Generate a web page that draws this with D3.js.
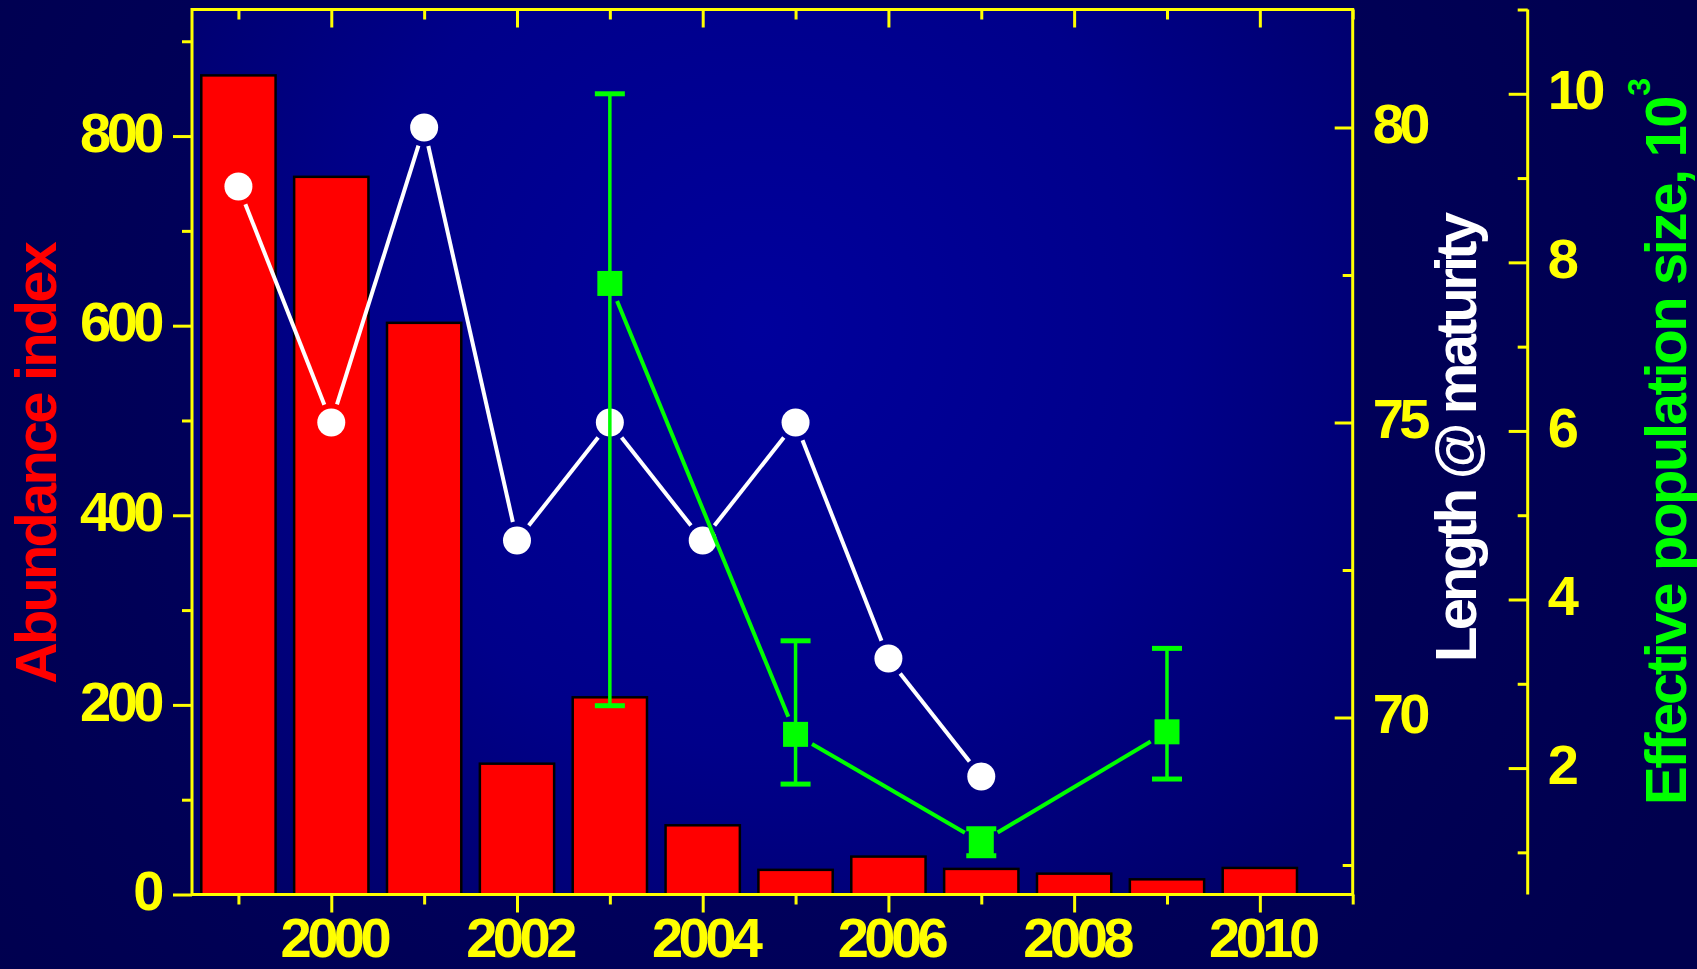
<!DOCTYPE html>
<html>
<head>
<meta charset="utf-8">
<script src="https://cdn.jsdelivr.net/npm/d3@7"></script>
<style>
  html, body { margin: 0; padding: 0; background: #000058; overflow: hidden; }
  svg { display: block; }
</style>
</head>
<body>
<svg id="chart" width="1697" height="969"></svg>
<script>
// ---- data ----
const years = [1999, 2000, 2001, 2002, 2003, 2004, 2005, 2006, 2007, 2008, 2009, 2010];
const abundance = [864, 757, 603, 138, 208, 73, 26, 40, 27, 22, 16, 28];

const lengthYears = [1999, 2000, 2001, 2002, 2003, 2004, 2005, 2006, 2007];
const lengthAtMaturity = [79, 75, 80, 73, 75, 73, 75, 71, 69];

const neYears = [2003, 2005, 2007, 2009];
const neSize = [7.75, 2.40, 1.12, 2.43];      // thousands
const neLower = [2.74, 1.81, 0.96, 1.87];
const neUpper = [10.0, 3.51, 1.28, 3.42];

// ---- tick values ----
const abundanceTicks = [0, 200, 400, 600, 800];
const abundanceMinor = [100, 300, 500, 700, 900];
const yearLabels = [2000, 2002, 2004, 2006, 2008, 2010];
const yearMinor = [1999, 2001, 2003, 2005, 2007, 2009, 2011];
const lengthTicks = [70, 75, 80];
const lengthMinor = [67.5, 72.5, 77.5];
const neTicks = [2, 4, 6, 8, 10];
const neMinor = [1, 3, 5, 7, 9, 11];

// ---- layout ----
const W = 1697, H = 969;
const plotL = 192, plotR = 1352.7, plotT = 9.5, plotB = 894.5;
const neAxisX = 1527.7;
const YELLOW = "#ffff00";
const GREEN = "#00ff00";
const FONT = "'Liberation Sans', Arial, Helvetica, sans-serif";

const svg = d3.select("#chart");

const x = d3.scaleLinear().domain([1998.5, 2011]).range([plotL, plotR]);
const yAb = d3.scaleLinear().domain([0, 933.5]).range([plotB, plotT]);
const yLen = d3.scaleLinear().domain([67, 82]).range([plotB, plotT]);
const yNe = d3.scaleLinear().domain([0.5, 11]).range([plotB, plotT]);

// ---- backgrounds ----
const defs = svg.append("defs");
const pageGrad = defs.append("radialGradient").attr("id", "pageBg")
  .attr("gradientUnits", "userSpaceOnUse")
  .attr("cx", 760).attr("cy", 400).attr("r", 1000);
pageGrad.append("stop").attr("offset", 0).attr("stop-color", "#000068");
pageGrad.append("stop").attr("offset", 1).attr("stop-color", "#00004e");

const plotGrad = defs.append("radialGradient").attr("id", "plotBg")
  .attr("gradientUnits", "userSpaceOnUse")
  .attr("cx", 760).attr("cy", 330).attr("r", 760);
plotGrad.append("stop").attr("offset", 0).attr("stop-color", "#00009c");
plotGrad.append("stop").attr("offset", 0.55).attr("stop-color", "#00008a");
plotGrad.append("stop").attr("offset", 1).attr("stop-color", "#000066");

svg.append("rect").attr("width", W).attr("height", H).attr("fill", "url(#pageBg)");
svg.append("rect")
  .attr("x", plotL).attr("y", plotT)
  .attr("width", plotR - plotL).attr("height", plotB - plotT)
  .attr("fill", "url(#plotBg)");

// ---- bars: abundance index (0.8 year wide) ----
const barW = x(1999.8) - x(1999);
svg.append("g").selectAll("rect")
  .data(years.map((yr, i) => ({ yr, v: abundance[i] })))
  .join("rect")
  .attr("x", d => x(d.yr) - barW / 2)
  .attr("y", d => yAb(d.v))
  .attr("width", barW)
  .attr("height", d => yAb(0) - yAb(d.v))
  .attr("fill", "#ff0000")
  .attr("stroke", "#000000")
  .attr("stroke-width", 2.5);

// line segments that stop short of each marker
function gappedSegments(pts, gap) {
  const segs = [];
  for (let i = 0; i < pts.length - 1; i++) {
    const [x1, y1] = pts[i], [x2, y2] = pts[i + 1];
    const len = Math.hypot(x2 - x1, y2 - y1);
    const ux = (x2 - x1) / len, uy = (y2 - y1) / len;
    segs.push([x1 + ux * gap, y1 + uy * gap, x2 - ux * gap, y2 - uy * gap]);
  }
  return segs;
}

// ---- length at maturity (white circles) ----
const lenPts = lengthYears.map((yr, i) => [x(yr), yLen(lengthAtMaturity[i])]);
const gLen = svg.append("g");
gLen.selectAll("line")
  .data(gappedSegments(lenPts, 19))
  .join("line")
  .attr("x1", d => d[0]).attr("y1", d => d[1])
  .attr("x2", d => d[2]).attr("y2", d => d[3])
  .attr("stroke", "#ffffff").attr("stroke-width", 4);
gLen.selectAll("circle")
  .data(lenPts)
  .join("circle")
  .attr("cx", d => d[0]).attr("cy", d => d[1])
  .attr("r", 14).attr("fill", "#ffffff");

// ---- effective population size (green squares, error bars) ----
const nePts = neYears.map((yr, i) => [x(yr), yNe(neSize[i])]);
const gNe = svg.append("g");
gNe.selectAll("line.seg")
  .data(gappedSegments(nePts, 19))
  .join("line").attr("class", "seg")
  .attr("x1", d => d[0]).attr("y1", d => d[1])
  .attr("x2", d => d[2]).attr("y2", d => d[3])
  .attr("stroke", GREEN).attr("stroke-width", 4);

const errData = neYears.map((yr, i) => ({ yr, lo: neLower[i], hi: neUpper[i] }));
gNe.selectAll("line.err")
  .data(errData)
  .join("line").attr("class", "err")
  .attr("x1", d => x(d.yr)).attr("x2", d => x(d.yr))
  .attr("y1", d => yNe(d.hi)).attr("y2", d => yNe(d.lo))
  .attr("stroke", GREEN).attr("stroke-width", 3.5);
["hi", "lo"].forEach(k => {
  gNe.selectAll("line.cap-" + k)
    .data(errData)
    .join("line").attr("class", "cap-" + k)
    .attr("x1", d => x(d.yr) - 15).attr("x2", d => x(d.yr) + 15)
    .attr("y1", d => yNe(d[k])).attr("y2", d => yNe(d[k]))
    .attr("stroke", GREEN).attr("stroke-width", 5);
});
gNe.selectAll("rect")
  .data(nePts)
  .join("rect")
  .attr("x", d => d[0] - 12.5).attr("y", d => d[1] - 12.5)
  .attr("width", 25).attr("height", 25)
  .attr("fill", GREEN);

// ---- axes ----
function styleAxis(g) {
  g.select(".domain").remove();
  g.selectAll(".tick line").attr("stroke", YELLOW).attr("stroke-width", 3);
  g.selectAll(".tick text")
    .attr("fill", YELLOW)
    .style("font-family", FONT)
    .style("font-weight", "bold")
    .style("font-size", "56px")
    .style("letter-spacing", "-4.5px");
}

// left: abundance
svg.append("g").attr("transform", `translate(${plotL},0)`)
  .call(d3.axisLeft(yAb).tickValues(abundanceTicks).tickSize(19).tickSizeOuter(0).tickPadding(13))
  .call(styleAxis)
  .call(g => g.selectAll(".tick text").attr("dy", "0.27em"));
svg.append("g").attr("transform", `translate(${plotL},0)`)
  .call(d3.axisLeft(yAb).tickValues(abundanceMinor).tickSize(10).tickSizeOuter(0).tickFormat(""))
  .call(styleAxis);

// bottom: years
svg.append("g").attr("transform", `translate(0,${plotB})`)
  .call(d3.axisBottom(x).tickValues(yearLabels).tickSize(18).tickSizeOuter(0).tickPadding(5).tickFormat(d3.format("d")))
  .call(styleAxis)
  .call(g => g.selectAll(".tick text").attr("dx", "2px"));
svg.append("g").attr("transform", `translate(0,${plotB})`)
  .call(d3.axisBottom(x).tickValues(yearMinor).tickSize(10).tickSizeOuter(0).tickFormat(""))
  .call(styleAxis);

// top: year ticks pointing inward
svg.append("g").attr("transform", `translate(0,${plotT})`)
  .call(d3.axisTop(x).tickValues(yearLabels).tickSize(-18).tickSizeOuter(0).tickFormat(""))
  .call(styleAxis);
svg.append("g").attr("transform", `translate(0,${plotT})`)
  .call(d3.axisTop(x).tickValues(yearMinor).tickSize(-10).tickSizeOuter(0).tickFormat(""))
  .call(styleAxis);

// right frame: length at maturity, ticks inward, labels outside
svg.append("g").attr("transform", `translate(${plotR},0)`)
  .call(d3.axisLeft(yLen).tickValues(lengthTicks).tickSize(18).tickSizeOuter(0).tickFormat(""))
  .call(styleAxis);
svg.append("g").attr("transform", `translate(${plotR},0)`)
  .call(d3.axisLeft(yLen).tickValues(lengthMinor).tickSize(10).tickSizeOuter(0).tickFormat(""))
  .call(styleAxis);
svg.append("g").attr("transform", `translate(${plotR},0)`)
  .call(d3.axisRight(yLen).tickValues(lengthTicks).tickSize(0).tickSizeOuter(0).tickPadding(20))
  .call(styleAxis)
  .call(g => g.selectAll(".tick text").attr("dy", "0.27em"));

// far right: effective population size
svg.append("g").attr("transform", `translate(${neAxisX},0)`)
  .call(d3.axisLeft(yNe).tickValues(neTicks).tickSize(19).tickSizeOuter(0).tickFormat(""))
  .call(styleAxis);
svg.append("g").attr("transform", `translate(${neAxisX},0)`)
  .call(d3.axisLeft(yNe).tickValues(neMinor).tickSize(10).tickSizeOuter(0).tickFormat(""))
  .call(styleAxis);
svg.append("g").attr("transform", `translate(${neAxisX},0)`)
  .call(d3.axisRight(yNe).tickValues(neTicks).tickSize(0).tickSizeOuter(0).tickPadding(20))
  .call(styleAxis)
  .call(g => g.selectAll(".tick text").attr("dy", "0.27em"));

// frame and the separate far-right axis line
svg.append("rect")
  .attr("x", plotL).attr("y", plotT)
  .attr("width", plotR - plotL).attr("height", plotB - plotT)
  .attr("fill", "none").attr("stroke", YELLOW).attr("stroke-width", 3);
svg.append("line")
  .attr("x1", neAxisX).attr("x2", neAxisX)
  .attr("y1", plotT).attr("y2", plotB)
  .attr("stroke", YELLOW).attr("stroke-width", 3);

// ---- axis titles ----
function title(tx, ty, color, spacing) {
  return svg.append("text")
    .attr("transform", `translate(${tx},${ty}) rotate(-90)`)
    .attr("fill", color)
    .style("font-family", FONT)
    .style("font-weight", "bold")
    .style("font-size", "58px")
    .style("letter-spacing", spacing);
}
title(56, 684, "#ff0000", "-2.9px").text("Abundance index");
title(1476, 662, "#ffffff", "-3.8px").text("Length @ maturity");
const neTitle = title(1686, 805, GREEN, "-2.4px");
neTitle.append("tspan").text("Effective population size, 10");
neTitle.append("tspan")
  .attr("dy", "-36")
  .attr("dx", "2")
  .style("font-size", "32px")
  .text("3");
</script>
</body>
</html>
